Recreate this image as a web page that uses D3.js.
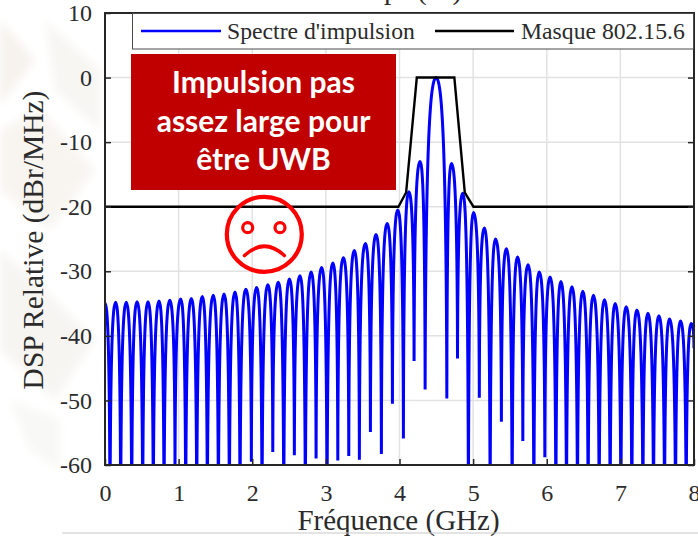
<!DOCTYPE html>
<html>
<head>
<meta charset="utf-8">
<script src="https://cdn.jsdelivr.net/npm/d3@7"></script>
<style>
  html, body { margin: 0; padding: 0; background: #fff; }
  svg { display: block; }
  text { font-family: "Liberation Serif", serif; fill: #2b2b2b; }
</style>
</head>
<body>
<div id="chart-area"></div>
<script>
// DATA
// ****

const xTicks = [0, 1, 2, 3, 4, 5, 6, 7, 8]
const yTicks = [10, 0, -10, -20, -30, -40, -50, -60]

// sommets des lobes (GHz, dB)
const lobeFreq = [0, 0.145, 0.289, 0.435, 0.584, 0.734, 0.879, 1.029, 1.173, 1.322,
  1.471, 1.617, 1.766, 1.912, 2.061, 2.211, 2.355, 2.504, 2.649, 2.799,
  2.944, 3.094, 3.238, 3.387, 3.537, 3.682, 3.832, 3.977, 4.126, 4.28,
  4.497, 4.705, 4.86, 5.004, 5.154, 5.303, 5.453, 5.602, 5.747, 5.897,
  6.046, 6.192, 6.342, 6.49, 6.634, 6.784, 6.929, 7.079, 7.224, 7.374,
  7.523, 7.667, 7.817, 7.962]
const lobeDb = [-34.9, -34.8, -34.8, -34.7, -34.7, -34.6, -34.5, -34.3, -34.2, -33.9,
  -33.7, -33.5, -33.2, -32.8, -32.5, -32.1, -31.7, -31.2, -30.7, -30.1,
  -29.4, -28.7, -27.9, -26.8, -25.7, -24.3, -22.6, -20.5, -17.7, -13,
  0, -13.3, -17.9, -20.9, -23.3, -25, -26.5, -27.8, -29, -30.1,
  -30.9, -31.6, -32.4, -33.1, -33.7, -34.4, -35, -35.5, -36, -36.5,
  -36.9, -37.4, -37.7, -38.1]

// creux entre les lobes, -70 = sort du cadre
const creuxFreq = [0.068, 0.213, 0.363, 0.512, 0.656, 0.802, 0.951, 1.096, 1.246, 1.39,
  1.54, 1.689, 1.834, 1.988, 2.133, 2.279, 2.428, 2.572, 2.721, 2.867,
  3.016, 3.162, 3.311, 3.455, 3.605, 3.754, 3.904, 4.053, 4.198, 4.348,
  4.643, 4.788, 4.936, 5.084, 5.231, 5.384, 5.53, 5.675, 5.825, 5.974,
  6.124, 6.268, 6.417, 6.562, 6.712, 6.861, 7.007, 7.156, 7.306, 7.45,
  7.6, 7.749, 7.894]
const creuxDb = [-70, -70, -70, -70, -70, -70, -60.5, -70, -70, -70,
  -70, -70, -70, -59.5, -70, -58, -70, -58.5, -70, -59,
  -70, -59.3, -58.6, -59.2, -54.9, -58.3, -50.5, -55.9, -43.9, -48.3,
  -49.7, -43.5, -70, -49.6, -70, -53.3, -70, -56.3, -70, -58.8,
  -70, -70, -70, -70, -70, -70, -70, -70, -70, -70,
  -70, -70, -70]

// dernier point, a 8 GHz
const finFreq = 8
const finDb = -41.9

const masqueFreq = [0, 3.985, 4.09, 4.235, 4.745, 4.887, 5.004, 8]
const masqueDb = [-20, -20, -17.8, 0, 0, -17.8, -20, -20]

const legendLabels = ["Spectre d'impulsion", "Masque 802.15.6"]
const boxLines = ["Impulsion pas", "assez large pour", "être UWB"]

// MARGINS & GROUPS
// ****************

const W = 698
const H = 538
const plot = {left: 105, right: 694, top: 13, bottom: 465}
const axisColor = "#262626"

const svg = d3.select("#chart-area")
  .append("svg")
    .attr("width", W)
    .attr("height", H)

const defs = svg.append("defs")
defs.append("clipPath").attr("id", "clip-plot")
  .append("rect")
    .attr("x", plot.left)
    .attr("y", plot.top)
    .attr("width", plot.right - plot.left + 1)
    .attr("height", plot.bottom - plot.top)
defs.append("filter").attr("id", "flou")
  .append("feGaussianBlur").attr("stdDeviation", 4)

// fond pale a gauche (filigrane de la diapo)
const filigrane = [
  ["0,20 35,60 0,105", "#f6f3ee"],
  ["45,20 100,70 100,130 55,90", "#f8f6f3"],
  ["0,130 40,110 95,170 50,230 0,190", "#f8f5f1"],
  ["0,250 45,290 95,340 55,400 0,350", "#f7f5f2"],
  ["10,400 60,420 60,470 30,450", "#f8f8f6"]
]
svg.append("g").attr("filter", "url(#flou)")
  .selectAll("polygon").data(filigrane).enter()
  .append("polygon")
    .attr("points", d => d[0])
    .attr("fill", d => d[1])

// SCALES
// ******

const x = d3.scaleLinear().domain([0, 8]).range([plot.left, plot.right])
const y = d3.scaleLinear().domain([-60, 10]).range([plot.bottom, plot.top])

// GRID
// ****

const grid = svg.append("g").attr("stroke", "#e2e2e2").attr("stroke-width", 1.5)
grid.selectAll(".gx").data(xTicks.slice(1, -1)).enter().append("line")
  .attr("x1", d => x(d)).attr("x2", d => x(d))
  .attr("y1", plot.top).attr("y2", plot.bottom)
grid.selectAll(".gy").data(yTicks.slice(1, -1)).enter().append("line")
  .attr("x1", plot.left).attr("x2", plot.right)
  .attr("y1", d => y(d)).attr("y2", d => y(d))

// SPECTRE
// *******

// arche d'un lobe : tangente verticale au creux, horizontale au sommet
function courbeLobe(context) {
  let x0, y0, n = 0
  return {
    areaStart() {},
    areaEnd() {},
    lineStart() { n = 0 },
    lineEnd() {},
    point(px, py) {
      px = +px; py = +py
      if (n++ === 0) context.moveTo(px, py)
      else {
        const dx = px - x0
        if (py < y0) context.bezierCurveTo(x0 + dx * 0.05, py + (y0 - py) * 0.18, x0 + dx * 0.5, py, px, py)
        else context.bezierCurveTo(x0 + dx * 0.5, y0, px - dx * 0.05, y0 + (py - y0) * 0.18, px, py)
      }
      x0 = px; y0 = py
    }
  }
}

const spectre = []
lobeFreq.forEach((f, i) => {
  spectre.push([f, lobeDb[i]])
  if (i < creuxFreq.length) spectre.push([creuxFreq[i], creuxDb[i]])
})
spectre.push([finFreq, finDb])

const courbes = svg.append("g").attr("clip-path", "url(#clip-plot)").attr("fill", "none")

courbes.append("path")
  .datum(spectre)
  .attr("stroke", "#0000ff")
  .attr("stroke-width", 3)
  .attr("d", d3.line().x(d => x(d[0])).y(d => y(d[1])).curve(courbeLobe))

courbes.append("path")
  .datum(masqueFreq.map((f, i) => [f, masqueDb[i]]))
  .attr("stroke", "#000")
  .attr("stroke-width", 2.4)
  .attr("d", d3.line().x(d => x(d[0])).y(d => y(d[1])))

// AXES
// ****

const tickFont = 24

function styleAxis(sel) {
  sel.select(".domain").remove()
  sel.selectAll("line").attr("stroke", axisColor).attr("stroke-width", 1.5)
  sel.selectAll("text").attr("font-family", null).attr("font-size", tickFont).attr("fill", axisColor)
}

svg.append("g")
  .attr("transform", "translate(" + plot.left + ",0)")
  .call(d3.axisLeft(y).tickValues(yTicks).tickSize(-6).tickPadding(13).tickFormat(d => String(d)))
  .call(styleAxis)

svg.append("g")
  .attr("transform", "translate(" + plot.right + ",0)")
  .call(d3.axisRight(y).tickValues(yTicks).tickSize(-6).tickFormat(""))
  .call(styleAxis)

svg.append("g")
  .attr("transform", "translate(0," + plot.bottom + ")")
  .call(d3.axisBottom(x).tickValues(xTicks).tickSize(-6).tickPadding(19).tickFormat(d => String(d)))
  .call(styleAxis)

// cadre
svg.append("rect")
  .attr("x", plot.left)
  .attr("y", plot.top)
  .attr("width", plot.right - plot.left)
  .attr("height", plot.bottom - plot.top)
  .attr("fill", "none")
  .attr("stroke", axisColor)
  .attr("stroke-width", 2)

// LABELS
// ******

svg.append("text")
  .attr("x", 397.5)
  .attr("y", -1)
  .attr("text-anchor", "middle")
  .attr("font-size", 29)
  .text("Temps (ns)")

svg.append("text")
  .attr("x", 398.5)
  .attr("y", 530)
  .attr("text-anchor", "middle")
  .attr("font-size", 29)
  .text("Fréquence (GHz)")

svg.append("text")
  .attr("transform", "translate(43,240) rotate(-90)")
  .attr("text-anchor", "middle")
  .attr("font-size", 29.5)
  .text("DSP Relative (dBr/MHz)")

// trait gris sous le graphique
svg.append("line")
  .attr("x1", 62).attr("x2", W)
  .attr("y1", 533).attr("y2", 533)
  .attr("stroke", "#c9c9c9")

// LEGEND
// ******

const legend = svg.append("g")
legend.append("rect")
  .attr("x", 132.5)
  .attr("y", 13.5)
  .attr("width", 561)
  .attr("height", 35.5)
  .attr("fill", "#fff")
  .attr("stroke", "#4a4a4a")
  .attr("stroke-width", 1)

const legendItems = [
  {x1: 141, x2: 221, tx: 227, color: "#0000ff"},
  {x1: 435, x2: 514, tx: 521, color: "#000"}
]
legend.selectAll("line").data(legendItems).enter().append("line")
  .attr("x1", d => d.x1).attr("x2", d => d.x2)
  .attr("y1", 31).attr("y2", 31)
  .attr("stroke", d => d.color)
  .attr("stroke-width", 2.4)
legend.selectAll("text").data(legendItems).enter().append("text")
  .attr("x", d => d.tx)
  .attr("y", 38.5)
  .attr("font-size", 23.7)
  .attr("fill", "#111")
  .text((d, i) => legendLabels[i])

// ENCADRE ROUGE
// *************

svg.append("rect")
  .attr("x", 131)
  .attr("y", 54)
  .attr("width", 265)
  .attr("height", 136)
  .attr("fill", "#c00000")

svg.selectAll(".box-line").data(boxLines).enter().append("text")
  .attr("class", "box-line")
  .attr("x", 263.5)
  .attr("y", (d, i) => 93 + i * 38.5)
  .attr("text-anchor", "middle")
  .style("font-family", "Lato, sans-serif")
  .style("font-weight", "700")
  .style("fill", "#fff")
  .attr("font-size", 30)
  .text(d => d)

// SMILEY
// ******

const smiley = svg.append("g").attr("fill", "none").attr("stroke", "#ff0000")
smiley.append("circle").attr("cx", 264.3).attr("cy", 234.3).attr("r", 37.5).attr("stroke-width", 4.2)
smiley.append("circle").attr("cx", 247.7).attr("cy", 227.7).attr("r", 5).attr("stroke-width", 3.2)
smiley.append("circle").attr("cx", 280).attr("cy", 227.7).attr("r", 5).attr("stroke-width", 3.2)
smiley.append("path")
  .attr("d", "M244.5,255.5 Q264.3,237 284.3,255.5")
  .attr("stroke-width", 3.6)
  .attr("stroke-linecap", "round")
</script>
</body>
</html>
